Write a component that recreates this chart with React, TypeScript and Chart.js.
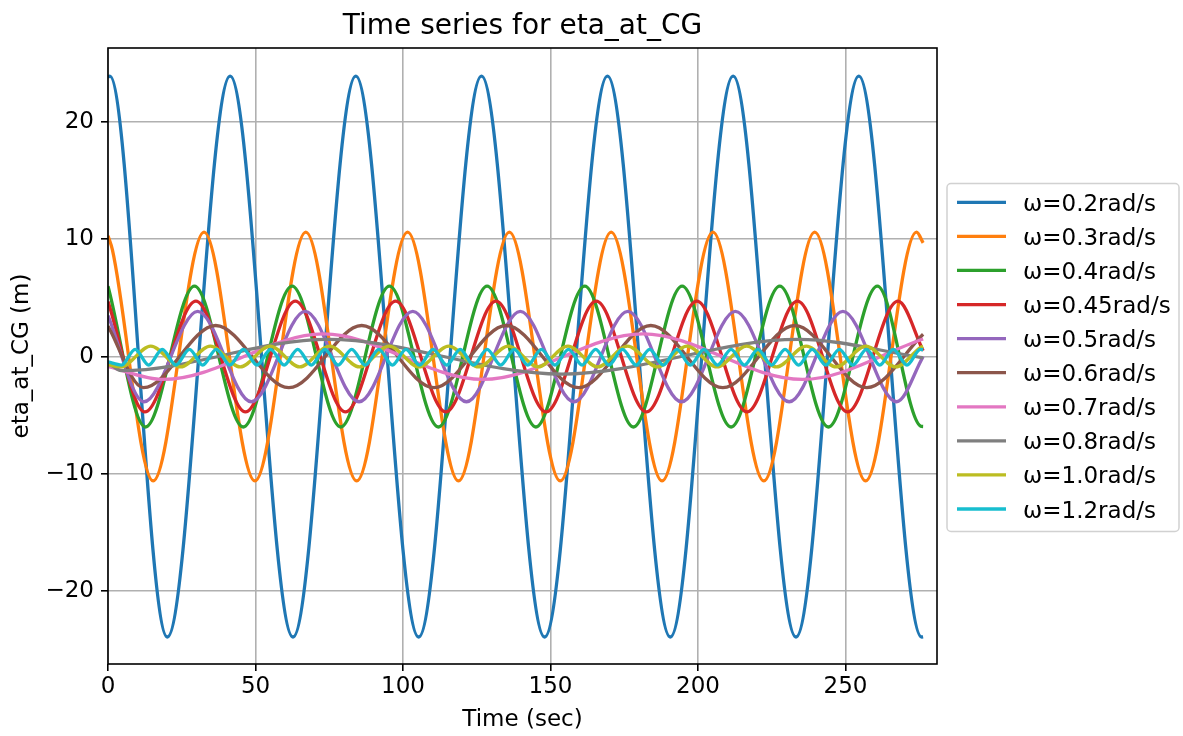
import React, { useEffect, useRef } from "react";
import { Chart, registerables } from "chart.js";

Chart.register(...registerables);

const TITLE = "Time series for eta_at_CG";
const X_TITLE = "Time (sec)";
const Y_TITLE = "eta_at_CG (m)";
const X_MIN = 0;
const X_MAX = 281;
const X_STEP = 50;
const Y_MIN = -26.2;
const Y_MAX = 26.3;
const Y_STEP = 10;

const LABELS = [
  "ω=0.2rad/s",
  "ω=0.3rad/s",
  "ω=0.4rad/s",
  "ω=0.45rad/s",
  "ω=0.5rad/s",
  "ω=0.6rad/s",
  "ω=0.7rad/s",
  "ω=0.8rad/s",
  "ω=1.0rad/s",
  "ω=1.2rad/s",
];
const COLORS = [
  "#1f77b4",
  "#ff7f0e",
  "#2ca02c",
  "#d62728",
  "#9467bd",
  "#8c564b",
  "#e377c2",
  "#7f7f7f",
  "#bcbd22",
  "#17becf",
];

// Turning points (time in s, eta in m), per frequency
const T_W02 = [0, 0.6, 20.1, 41.4, 62.7, 84.0, 105.3, 126.6, 148.0, 169.3, 190.6, 211.9, 233.2, 254.5, 275.8, 276.3];
const V_W02 = [23.8, 23.9, -23.9, 23.9, -23.9, 23.9, -23.9, 23.9, -23.9, 23.9, -23.9, 23.9, -23.9, 23.9, -23.9, -23.88];

const T_W03 = [0, 1.5, 15.3, 32.55, 49.8, 67.05, 84.3, 101.55, 118.8, 136.05, 153.3, 170.55, 187.8, 205.05, 222.3, 239.55, 256.8, 274.05, 276.3];
const V_W03 = [10.3, 9.1, -10.6, 10.6, -10.6, 10.6, -10.6, 10.6, -10.6, 10.6, -10.6, 10.6, -10.6, 10.6, -10.6, 10.6, -10.6, 10.6, 9.7];

const T_W04 = [0, 12.7, 29.3, 45.85, 62.4, 78.9, 95.4, 112.0, 128.5, 145.05, 161.6, 178.1, 194.6, 211.2, 227.7, 244.2, 260.8, 275.5, 276.3];
const V_W04 = [6.0, -6.0, 6.0, -6.0, 6.0, -6.0, 6.0, -6.0, 6.0, -6.0, 6.0, -6.0, 6.0, -6.0, 6.0, -6.0, 6.0, -5.93, -5.96];

const T_W045 = [0, 12.5, 29.8, 46.6, 63.5, 80.5, 97.5, 114.5, 131.5, 148.5, 165.5, 182.5, 199.6, 216.6, 233.7, 250.7, 267.8, 276.3];
const V_W045 = [4.7, -4.72, 4.72, -4.72, 4.72, -4.72, 4.72, -4.72, 4.72, -4.72, 4.72, -4.72, 4.72, -4.72, 4.72, -4.72, 4.72, 0.5];

const T_W05 = [0, 12.2, 30.4, 48.6, 66.85, 85.1, 103.3, 121.5, 139.75, 157.95, 176.2, 194.4, 212.65, 230.9, 249.1, 267.3, 276.3];
const V_W05 = [3.5, -3.85, 3.85, -3.85, 3.85, -3.85, 3.85, -3.85, 3.85, -3.85, 3.85, -3.85, 3.85, -3.85, 3.85, -3.85, 0.0];

const T_W06 = [0, 12.0, 36.5, 61.3, 86.0, 110.5, 135.0, 159.5, 184.0, 208.4, 232.8, 257.2, 276.3];
const V_W06 = [2.6, -2.65, 2.65, -2.65, 2.65, -2.65, 2.65, -2.65, 2.65, -2.65, 2.65, -2.65, 1.9];

const T_W07 = [0, 18.8, 73.0, 127.1, 181.3, 235.4, 276.3];
const V_W07 = [-0.85, -1.95, 1.93, -1.95, 1.93, -1.95, 1.5];

const T_W08 = [0, 4.5, 74.5, 153.8, 234.0, 276.3];
const V_W08 = [-0.5, -1.2, 1.47, -1.5, 1.47, -0.1];

const T_W10 = [0, 4.4, 14.5, 24.6, 34.7, 44.8, 54.9, 65.0, 75.1, 85.2, 95.3, 105.4, 115.5, 125.6, 135.7, 145.8, 155.9, 166.0, 176.1, 186.2, 196.3, 206.4, 216.5, 226.6, 236.7, 246.8, 256.9, 267.0, 275.6, 276.3];
const V_W10 = [-0.7, -0.88, 0.9, -0.88, 0.9, -0.88, 0.9, -0.88, 0.9, -0.88, 0.9, -0.88, 0.9, -0.88, 0.9, -0.88, 0.9, -0.88, 0.9, -0.88, 0.9, -0.88, 0.9, -0.88, 0.9, -0.88, 0.9, -0.88, 0.8, 0.87];

const T_W12 = [0, 4.6, 9.2, 13.8, 18.4, 23.0, 27.6, 32.1, 36.7, 41.3, 45.9, 50.5, 55.1, 59.7, 64.3, 68.9, 73.5, 78.0, 82.6, 87.2, 91.8, 96.4, 101.0, 105.6, 110.2, 114.8, 119.4, 123.9, 128.5, 133.1, 137.7, 142.3, 146.9, 151.5, 156.1, 160.7, 165.3, 169.8, 174.4, 179.0, 183.6, 188.2, 192.8, 197.4, 202.0, 206.6, 211.2, 215.7, 220.3, 224.9, 229.5, 234.1, 238.7, 243.3, 247.9, 252.5, 257.1, 261.6, 266.2, 270.8, 275.4, 276.3];
const V_W12 = [-0.45, -0.72, 0.62, -0.72, 0.62, -0.72, 0.62, -0.72, 0.62, -0.72, 0.62, -0.72, 0.62, -0.72, 0.62, -0.72, 0.62, -0.72, 0.62, -0.72, 0.62, -0.72, 0.62, -0.72, 0.62, -0.72, 0.62, -0.72, 0.62, -0.72, 0.62, -0.72, 0.62, -0.72, 0.62, -0.72, 0.62, -0.72, 0.62, -0.72, 0.62, -0.72, 0.62, -0.72, 0.62, -0.72, 0.62, -0.72, 0.62, -0.72, 0.62, -0.72, 0.62, -0.72, 0.62, -0.72, 0.62, -0.72, 0.62, -0.72, 0.62, 0.57];

const TIMES = [T_W02, T_W03, T_W04, T_W045, T_W05, T_W06, T_W07, T_W08, T_W10, T_W12];
const VALUES = [V_W02, V_W03, V_W04, V_W045, V_W05, V_W06, V_W07, V_W08, V_W10, V_W12];

const FONT = "'DejaVu Sans', 'Liberation Sans', sans-serif";
const FS = 23;
const minusFmt = (v: number | string) => String(v).replace("-", "\u2212");

const framePlugin = {
  id: "frameBox",
  afterDatasetsDraw(chart: any) {
    const { ctx, chartArea } = chart;
    ctx.save();
    ctx.strokeStyle = "#000";
    ctx.lineWidth = 1.6;
    ctx.strokeRect(chartArea.left, chartArea.top, chartArea.right - chartArea.left, chartArea.bottom - chartArea.top);
    ctx.restore();
  },
};

const titlePlugin = {
  id: "centredTitle",
  afterDraw(chart: any) {
    const { ctx, chartArea } = chart;
    ctx.save();
    ctx.font = `28px ${FONT}`;
    ctx.fillStyle = "#000";
    ctx.textAlign = "center";
    ctx.textBaseline = "alphabetic";
    ctx.fillText(TITLE, (chartArea.left + chartArea.right) / 2, 34);
    ctx.restore();
  },
};

const legendPlugin = {
  id: "boxLegend",
  afterDraw(chart: any) {
    const { ctx, chartArea } = chart;
    const x0 = chartArea.right + 10;
    const y0 = 183.5;
    const w = 232;
    const h = 348;
    const rowH = 34.08;
    const firstY = 202.3;
    ctx.save();
    ctx.beginPath();
    if (ctx.roundRect) ctx.roundRect(x0, y0, w, h, 4);
    else ctx.rect(x0, y0, w, h);
    ctx.fillStyle = "rgba(255,255,255,0.8)";
    ctx.fill();
    ctx.strokeStyle = "rgba(204,204,204,0.9)";
    ctx.lineWidth = 1.5;
    ctx.stroke();
    ctx.font = `${FS}px ${FONT}`;
    ctx.textAlign = "left";
    ctx.textBaseline = "alphabetic";
    chart.data.datasets.forEach((ds: any, i: number) => {
      const y = firstY + rowH * i;
      ctx.beginPath();
      ctx.strokeStyle = ds.borderColor;
      ctx.lineWidth = 3.3;
      ctx.moveTo(x0 + 10, y);
      ctx.lineTo(x0 + 59, y);
      ctx.stroke();
      ctx.fillStyle = "#000";
      ctx.fillText(ds.label, x0 + 76, y + 8.5);
    });
    ctx.restore();
  },
};

export default function App() {
  const ref = useRef<HTMLCanvasElement | null>(null);

  useEffect(() => {
    if (!ref.current) return;
    const datasets = LABELS.map((label, i) => ({
      label,
      data: TIMES[i].map((t, j) => ({ x: t, y: VALUES[i][j] })),
      borderColor: COLORS[i],
      backgroundColor: COLORS[i],
      borderWidth: 3.3,
      pointRadius: 0,
      fill: false,
      cubicInterpolationMode: "monotone" as const,
      order: LABELS.length - i,
    }));

    const chart = new Chart(ref.current, {
      type: "line",
      data: { datasets },
      plugins: [framePlugin, titlePlugin, legendPlugin],
      options: {
        animation: false,
        responsive: false,
        maintainAspectRatio: false,
        devicePixelRatio: 1,
        layout: { padding: { left: 0, right: 246, top: 48, bottom: 0 } },
        plugins: {
          legend: { display: false },
          tooltip: { enabled: false },
          title: { display: false },
        },
        scales: {
          x: {
            type: "linear",
            min: X_MIN,
            max: X_MAX,
            afterFit: (s: any) => {
              s.height = 72;
            },
            ticks: {
              stepSize: X_STEP,
              includeBounds: false,
              color: "#000",
              font: { family: FONT, size: FS },
              padding: 2,
              maxRotation: 0,
              callback: (v: any) => minusFmt(v),
            },
            grid: { color: "#b0b0b0", lineWidth: 1.6, tickColor: "#000", tickLength: 7, tickWidth: 1.6 },
            border: { display: false },
            title: {
              display: true,
              text: X_TITLE,
              color: "#000",
              font: { family: FONT, size: FS },
              padding: { top: 0, bottom: 2 },
            },
          },
          y: {
            type: "linear",
            min: Y_MIN,
            max: Y_MAX,
            afterFit: (s: any) => {
              s.width = 108;
            },
            ticks: {
              stepSize: Y_STEP,
              includeBounds: false,
              color: "#000",
              font: { family: FONT, size: FS },
              padding: 7,
              callback: (v: any) => minusFmt(v),
            },
            grid: { color: "#b0b0b0", lineWidth: 1.6, tickColor: "#000", tickLength: 7, tickWidth: 1.6 },
            border: { display: false },
            title: {
              display: true,
              text: Y_TITLE,
              color: "#000",
              font: { family: FONT, size: FS },
              padding: { top: 8, bottom: 0 },
            },
          },
        },
      },
    } as any);
    return () => chart.destroy();
  }, []);

  return (
    <div style={{ position: "fixed", left: 0, top: 0, width: 1183, height: 736, background: "#fff" }}>
      <canvas ref={ref} width={1183} height={736} style={{ display: "block", width: 1183, height: 736 }} />
    </div>
  );
}
